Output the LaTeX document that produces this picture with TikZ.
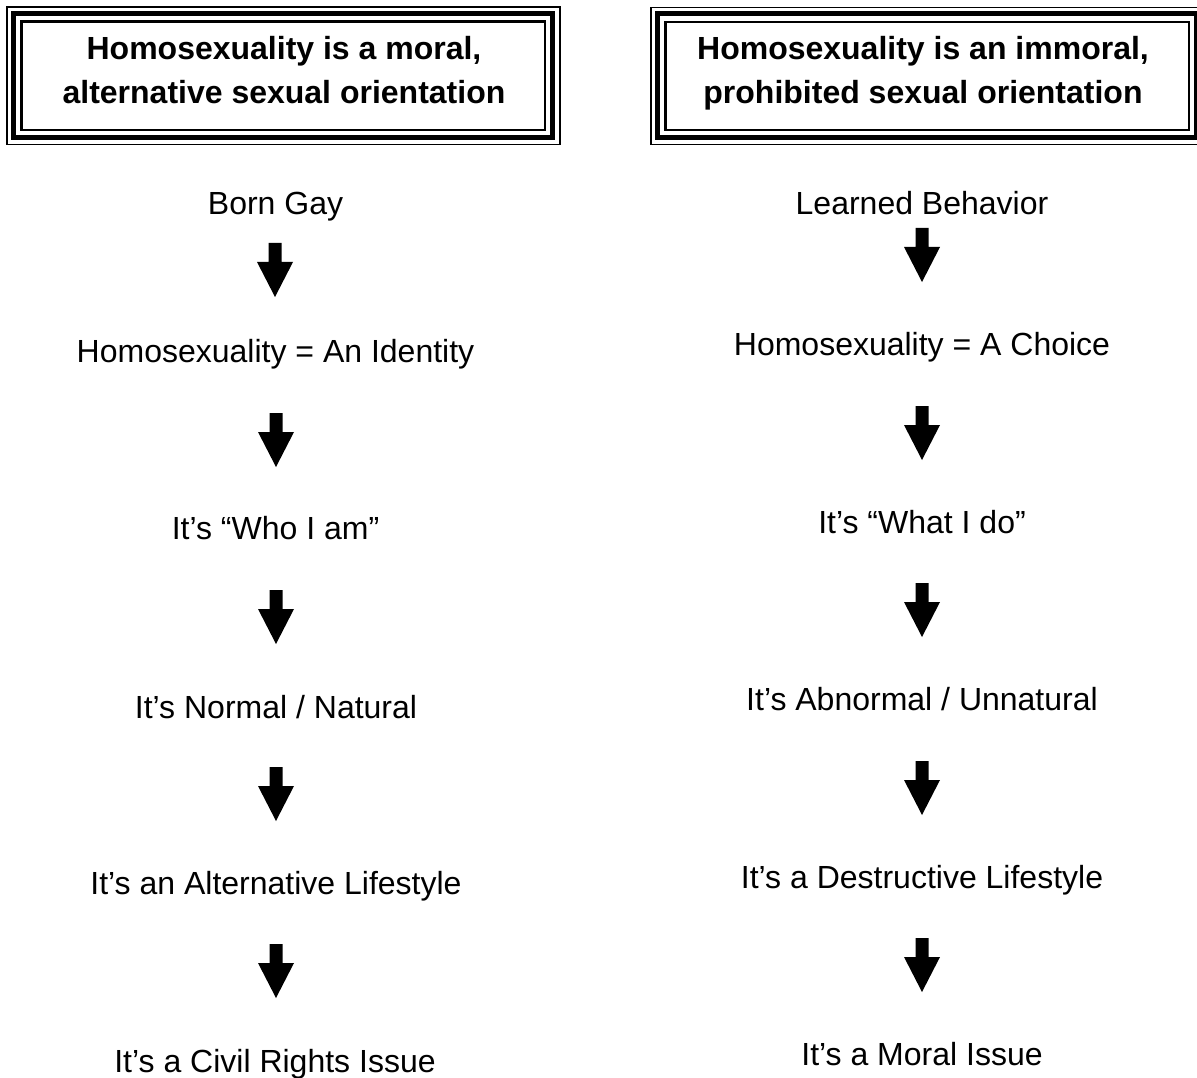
\documentclass[tikz,border=0pt]{standalone}
\usepackage{fontspec}
\setmainfont{Liberation Sans}

% block arrow pointing down, #1 = top of the shaft
\newcommand{\blockdown}[1]{%
  \fill (#1) ++(-6.5,0) -- ++(13,0) -- ++(0,19) -- ++(11.5,0)
    -- ++(-18,35) -- ++(-18,-35) -- ++(11.5,0) -- cycle;}

\tikzset{
  label/.style={font=\fontsize{32}{38}\selectfont, inner sep=0pt, anchor=base},
  headtext/.style={label, font=\fontsize{32}{38}\selectfont\bfseries},
  outerline/.style={line width=1.3pt},
  thickline/.style={line width=5pt},
  innerline/.style={line width=2.5pt}
}

\begin{document}
\begin{tikzpicture}[x=1pt, y=-1pt]
  \useasboundingbox (0,0) rectangle (1197,1078);
  \clip (0,0) rectangle (1197,1078);

  % heading frames
  \draw[outerline] (7,7) rectangle (560,144.5);
  \draw[thickline] (13.5,13.5) rectangle (552,138);
  \draw[innerline] (21.5,21.5) rectangle (545,130);
  \draw[outerline] (651,7.5) rectangle (1204,144.5);
  \draw[thickline] (657.5,14) rectangle (1196,138);
  \draw[innerline] (665.5,22) rectangle (1189,130);

  \node[headtext] (lhead1) at (284,60) {Homosexuality is a moral,};
  \node[headtext] (lhead2) at (284,104) {alternative sexual orientation};
  \node[headtext] (rhead1) at (923,60) {Homosexuality is an immoral,};
  \node[headtext] (rhead2) at (923,104) {prohibited sexual orientation};

  % left column
  \node[label] (born) at (275.5,215) {Born Gay};
  \node[label] (identity) at (275.5,362) {Homosexuality = An Identity};
  \node[label] (whoiam) at (275.5,539) {It’s “Who I am”};
  \node[label] (normal) at (276,718) {It’s Normal / Natural};
  \node[label] (altlife) at (276,894) {It’s an Alternative Lifestyle};
  \node[label] (civil) at (275,1072) {It’s a Civil Rights Issue};

  \coordinate (la1) at (275,243);
  \coordinate (la2) at (276,413);
  \coordinate (la3) at (276,590);
  \coordinate (la4) at (276,767);
  \coordinate (la5) at (276,944);
  \blockdown{la1} \blockdown{la2} \blockdown{la3} \blockdown{la4} \blockdown{la5}

  % right column
  \node[label] (learned) at (922,215) {Learned Behavior};
  \node[label] (choice) at (922,355) {Homosexuality = A Choice};
  \node[label] (whatido) at (922,533) {It’s “What I do”};
  \node[label] (abnormal) at (922,710) {It’s Abnormal / Unnatural};
  \node[label] (destlife) at (922,888) {It’s a Destructive Lifestyle};
  \node[label] (moral) at (922,1065) {It’s a Moral Issue};

  \coordinate (ra1) at (922,228);
  \coordinate (ra2) at (922,406);
  \coordinate (ra3) at (922,583);
  \coordinate (ra4) at (922,761);
  \coordinate (ra5) at (922,938);
  \blockdown{ra1} \blockdown{ra2} \blockdown{ra3} \blockdown{ra4} \blockdown{ra5}
\end{tikzpicture}
\end{document}
